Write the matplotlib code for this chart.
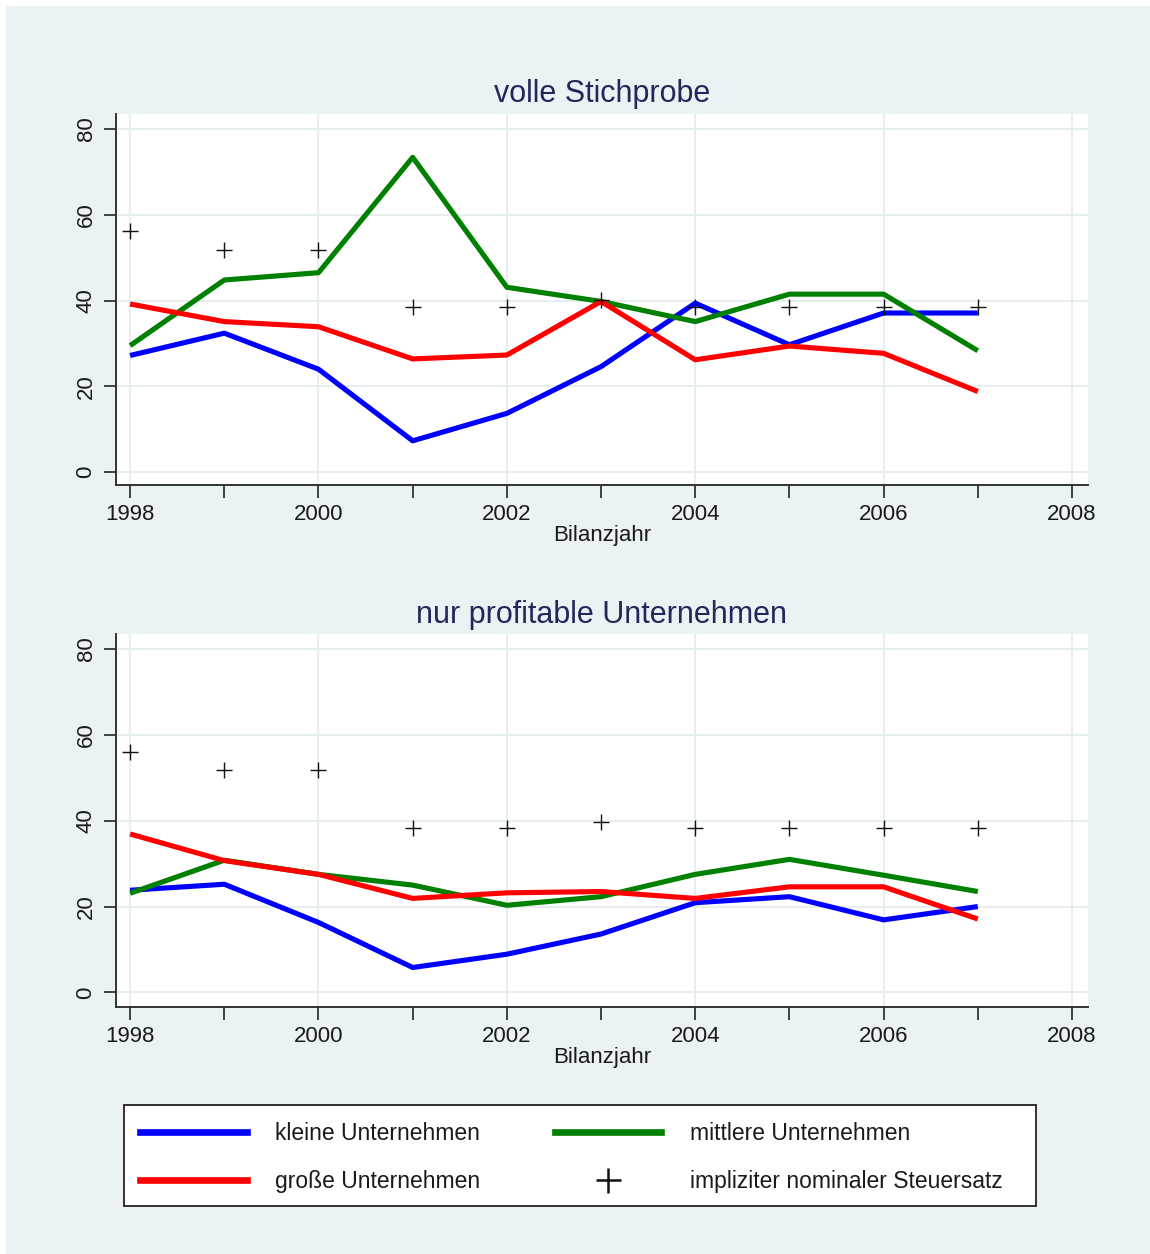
import matplotlib
matplotlib.use('Agg')
import matplotlib.pyplot as plt
from matplotlib.patches import Rectangle
from matplotlib.lines import Line2D

plt.rcParams['font.family'] = ['Liberation Sans', 'DejaVu Sans']

years = [1998, 1999, 2000, 2001, 2002, 2003, 2004, 2005, 2006, 2007]

# Panel 1: volle Stichprobe
full_klein = [27.2, 32.4, 24.0, 7.3, 13.7, 24.6, 39.4, 29.7, 37.1, 37.1]
full_mittel = [29.5, 44.8, 46.5, 73.4, 43.1, 39.8, 35.1, 41.5, 41.5, 28.3]
full_gross = [39.2, 35.1, 33.9, 26.4, 27.3, 39.8, 26.2, 29.4, 27.7, 18.8]
full_steuer = [56.2, 51.8, 51.8, 38.6, 38.6, 40.2, 38.6, 38.6, 38.6, 38.6]

# Panel 2: nur profitable Unternehmen
prof_klein = [23.8, 25.2, 16.3, 5.8, 8.9, 13.6, 20.9, 22.3, 16.9, 20.0]
prof_mittel = [23.1, 30.8, 27.5, 25.0, 20.3, 22.3, 27.5, 31.0, 27.3, 23.5]
prof_gross = [36.9, 30.7, 27.5, 21.9, 23.2, 23.5, 21.9, 24.6, 24.6, 17.1]
prof_steuer = [56.1, 51.7, 51.7, 38.4, 38.4, 39.8, 38.4, 38.4, 38.4, 38.4]

titles = ["volle Stichprobe", "nur profitable Unternehmen"]
series_labels = ["kleine Unternehmen", "mittlere Unternehmen",
                 "große Unternehmen", "impliziter nominaler Steuersatz"]
xlabel = "Bilanzjahr"
xticks_major = [1998, 2000, 2002, 2004, 2006, 2008]
xticks_minor = [1999, 2001, 2003, 2005, 2007]
yticks = [0, 20, 40, 60, 80]

BG = '#EAF2F3'
W, H = 1150, 1254
fig = plt.figure(figsize=(W / 100, H / 100), dpi=100)
fig.patch.set_facecolor('white')
fig.patches.append(Rectangle((6 / W, 0), 1 - 6 / W, 1 - 6 / H, transform=fig.transFigure,
                             facecolor=BG, edgecolor='none', zorder=-10))

def fx(px):
    return px / W

def fy(py):
    return 1 - py / H

panels = [
    (114, 485, full_klein, full_mittel, full_gross, full_steuer, 92, (-3.0, 83.5)),
    (634, 1007, prof_klein, prof_mittel, prof_gross, prof_steuer, 613, (-3.4, 83.5)),
]
left_px, right_px = 116, 1088
handles = None
for i, (top, bot, kl, mi, gr, st, title_y, ylim) in enumerate(panels):
    ax = fig.add_axes([fx(left_px), fy(bot), fx(right_px - left_px), (bot - top) / H])
    ax.set_facecolor('white')
    l1, = ax.plot(years, kl, color='#0000FF', lw=3.7, solid_capstyle='butt', zorder=3)
    l2, = ax.plot(years, mi, color='#008000', lw=3.7, solid_capstyle='butt', zorder=3)
    l3, = ax.plot(years, gr, color='#FF0000', lw=3.7, solid_capstyle='butt', zorder=3)
    l4, = ax.plot(years, st, linestyle='none', marker='+', color='#111111',
                  markersize=12, markeredgewidth=1.0, zorder=4)
    handles = [l1, l3, l2, l4]
    ax.set_xlim(1997.85, 2008.17)
    ax.set_ylim(*ylim)
    ax.set_xticks(xticks_major)
    ax.set_xticks(xticks_minor, minor=True)
    ax.set_yticks(yticks)
    ax.set_yticklabels([str(v) for v in yticks], rotation=90, va='center')
    ax.tick_params(axis='both', which='both', direction='out', length=9, width=1.3,
                   color='#333333', labelsize=16, labelcolor='#1a1a1a', pad=5)
    ax.grid(True, which='major', color='#E6EEF0', lw=1.4, zorder=0)
    ax.set_axisbelow(True)
    for s in ['top', 'right']:
        ax.spines[s].set_visible(False)
    for s in ['left', 'bottom']:
        ax.spines[s].set_color('#333333')
        ax.spines[s].set_linewidth(1.4)
    fig.text(fx((left_px + right_px) / 2), fy(title_y + 2), titles[i], ha='center', va='center',
             fontsize=22, color='#22285A')
    fig.text(fx((left_px + right_px) / 2), fy(bot + 50), xlabel, ha='center', va='center',
             fontsize=16, color='#1a1a1a')

# legend frame
fig.patches.append(Rectangle((fx(124), fy(1206)), fx(1036 - 124), (1206 - 1105) / H,
                             transform=fig.transFigure, facecolor='white',
                             edgecolor='#222222', linewidth=1.3, zorder=1))

leg_handles = [Line2D([], [], color=h.get_color(), lw=4.8) if h.get_linestyle() != 'None'
               else Line2D([], [], linestyle='none', marker='+', color='#111111',
                           markersize=18, markeredgewidth=1.8) for h in handles]
leg_labels = [series_labels[0], series_labels[2], series_labels[1], series_labels[3]]
leg = fig.legend(leg_handles, leg_labels, ncol=2, loc='center left',
                 bbox_to_anchor=(fx(140), fy(1157.5)), bbox_transform=fig.transFigure,
                 fontsize=16.5, frameon=False, handlelength=4.65,
                 handletextpad=1.25, columnspacing=3.25, labelspacing=1.05,
                 borderpad=0, borderaxespad=0)
leg.set_zorder(2)
for t in leg.get_texts():
    t.set_color('#1a1a1a')

fig.savefig('out.png', dpi=100, facecolor=fig.get_facecolor())
